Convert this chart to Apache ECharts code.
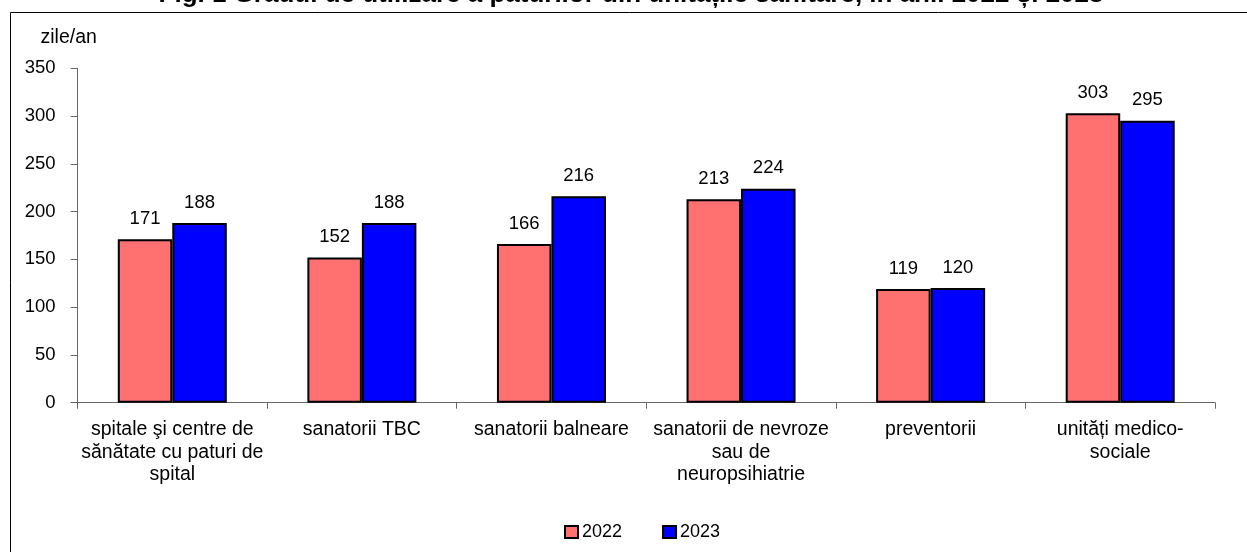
<!DOCTYPE html>
<html><head><meta charset="utf-8">
<script src="https://cdn.jsdelivr.net/npm/echarts@6/dist/echarts.min.js"></script>
<style>html,body{margin:0;padding:0;background:#fff}#c{width:1247px;height:552px}</style>
</head><body><div id="c"></div>
<script>
const categories = [
  "spitale şi centre de\nsănătate cu paturi de\nspital",
  "sanatorii TBC",
  "sanatorii balneare",
  "sanatorii de nevroze\nsau de\nneuropsihiatrie",
  "preventorii",
  "unități medico-\nsociale"
];
const seriesNames = ["2022", "2023"];
const values2022 = [171, 152, 166, 213, 119, 303];
const values2023 = [188, 188, 216, 224, 120, 295];
const yTicks = { min: 0, max: 350, interval: 50 };
const titleText = "Fig. 1 Gradul de utilizare a paturilor din unitățile sanitare, în anii 2022 și 2023";
const unitText = "zile/an";

const font = "Liberation Sans, Arial, sans-serif";
const chart = echarts.init(document.getElementById('c'));
const mk = (name, data, color) => ({
  name, type: 'bar', data, barGap: '0%', barCategoryGap: '42.5%',
  itemStyle: { color, borderColor: '#000', borderWidth: 2 },
  label: { show: true, position: 'top', distance: 11, color: '#000', fontSize: 18.5, fontFamily: font },
  emphasis: { disabled: true }
});
chart.setOption({
  animation: false,
  textStyle: { fontFamily: font },
  graphic: [
    { type: 'rect', shape: { x: 10.5, y: 12.5, width: 1260, height: 560 }, style: { fill: 'none', stroke: '#000', lineWidth: 1 }, z: -1 },
    { type: 'text', x: 631, y: -5, style: { text: titleText, font: 'bold 26px ' + font, fill: '#000', textAlign: 'center', textVerticalAlign: 'middle' } },
    { type: 'text', x: 40.5, y: 37.5, style: { text: unitText, font: '19.5px ' + font, fill: '#000', textAlign: 'left', textVerticalAlign: 'middle' } }
  ],
  legend: {
    data: seriesNames, top: 523, left: 564, padding: 0, itemWidth: 13, itemHeight: 12, itemGap: 40,
    textStyle: { fontSize: 18, color: '#000', fontFamily: font, padding: [0, 0, 0, -1] },
    icon: 'rect'
  },
  grid: { left: 77.5, right: 32, top: 68.3, bottom: 149.3 },
  xAxis: {
    type: 'category', data: categories,
    axisLine: { lineStyle: { color: '#666', width: 1 } },
    axisTick: { show: true, alignWithLabel: false, length: 6, lineStyle: { color: '#666' } },
    axisLabel: { color: '#000', fontSize: 19.5, lineHeight: 22.7, margin: 15.5, interval: 0, fontFamily: font }
  },
  yAxis: {
    type: 'value', min: yTicks.min, max: yTicks.max, interval: yTicks.interval,
    axisLine: { show: true, lineStyle: { color: '#666', width: 1 } },
    axisTick: { show: true, length: 7, lineStyle: { color: '#666' } },
    splitLine: { show: false },
    axisLabel: { color: '#000', fontSize: 18.5, margin: 22, fontFamily: font }
  },
  series: [ mk(seriesNames[0], values2022, '#FF7070'), mk(seriesNames[1], values2023, '#0000FF') ]
});
</script></body></html>
